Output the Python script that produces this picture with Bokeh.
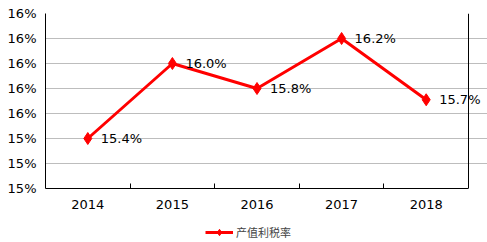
from bokeh.plotting import figure
from bokeh.layouts import column
from bokeh.models import (Range1d, FixedTicker, PrintfTickFormatter, Legend, LegendItem,
                          ColumnDataSource, LabelSet, Grid)
from bokeh.core.properties import value
from bokeh.embed import file_html
from bokeh.resources import INLINE

years = ["2014", "2015", "2016", "2017", "2018"]
rates = [15.4, 16.0, 15.8, 16.2, 15.71]
y_ticks = [15.0, 15.2, 15.4, 15.6, 15.8, 16.0, 16.2, 16.4]
series_name = "产值利税率"

n = len(years)
xs = [i + 0.5 for i in range(n)]
labels = [f"{v:.1f}%" for v in rates]
src = ColumnDataSource(dict(x=xs, y=rates, label=labels))

# frame runs to the right edge so that the last data label is not clipped;
# the visible box is closed at x = n by a grid line
plot_w = 423
extra = 19
p = figure(width=487, height=215, output_backend="svg", toolbar_location=None,
           x_range=Range1d(0, n * (plot_w + extra) / plot_w), y_range=Range1d(y_ticks[0], y_ticks[-1]),
           min_border_left=45, min_border_right=0, min_border_top=13, min_border_bottom=27)
p.background_fill_color = "white"
p.border_fill_color = "white"
p.outline_line_color = None

# x axis
p.xaxis.ticker = FixedTicker(ticks=xs, minor_ticks=list(range(1, n)))
p.xaxis.major_label_overrides = {x: y for x, y in zip(xs, years)}
p.xaxis.bounds = (0, n)
p.xaxis.major_tick_line_color = None
p.xaxis.major_tick_in = 0
p.xaxis.major_tick_out = 0
p.xaxis.minor_tick_line_color = "black"
p.xaxis.minor_tick_in = 5
p.xaxis.minor_tick_out = 0
p.xaxis.axis_line_color = "black"
p.xaxis.major_label_standoff = 11
p.xaxis.major_label_text_font = "DejaVu Sans"
p.xaxis.major_label_text_font_size = "13px"
p.xaxis.major_label_text_color = "black"
p.xgrid.grid_line_color = None

# y axis
p.yaxis.ticker = FixedTicker(ticks=y_ticks)
p.yaxis.formatter = PrintfTickFormatter(format="%.0f%%")
p.yaxis.major_tick_line_color = None
p.yaxis.minor_tick_line_color = None
p.yaxis.major_tick_in = 0
p.yaxis.major_tick_out = 0
p.yaxis.axis_line_color = "black"
p.yaxis.major_label_standoff = 9
p.yaxis.major_label_text_font = "DejaVu Sans"
p.yaxis.major_label_text_font_size = "13px"
p.yaxis.major_label_text_color = "black"
p.ygrid.ticker = FixedTicker(ticks=y_ticks[1:-1])
p.ygrid.grid_line_color = "#BDBDBD"
p.ygrid.grid_line_width = 1
p.ygrid.bounds = (0, n)

# box closing lines (top and right)
p.add_layout(Grid(dimension=1, ticker=FixedTicker(ticks=[y_ticks[-1]]), bounds=(0, n),
                  grid_line_color="black", grid_line_width=1))
p.add_layout(Grid(dimension=0, ticker=FixedTicker(ticks=[n]),
                  grid_line_color="black", grid_line_width=1))

p.line("x", "y", source=src, line_color="#FF0000", line_width=3)
p.scatter("x", "y", source=src, marker="diamond", size=12, fill_color="#FF0000", line_color="#FF0000")
labs = LabelSet(x="x", y="y", text="label", source=src, x_offset=13, text_baseline="middle",
                text_font=value("DejaVu Sans"), text_font_size=value("13px"), text_color="black")
p.add_layout(labs)

# legend strip
q = figure(width=487, height=27, output_backend="svg", toolbar_location=None,
           x_range=Range1d(0, 1), y_range=Range1d(0, 1),
           min_border_left=0, min_border_right=0, min_border_top=0, min_border_bottom=0)
q.axis.visible = False
q.grid.grid_line_color = None
q.outline_line_color = None
q.background_fill_color = "white"
q.border_fill_color = "white"
l_line = q.line("x", "y", source=src, line_color="#FF0000", line_width=3)
l_pts = q.scatter("x", "y", source=src, marker="diamond", size=9, fill_color="#FF0000", line_color="#FF0000")
legend = Legend(items=[LegendItem(label=series_name, renderers=[l_line, l_pts])],
                location=(160, 2), orientation="horizontal",
                label_text_font="Noto Sans CJK SC", label_text_font_size="11px",
                glyph_width=28, glyph_height=16, label_standoff=3, label_height=12,
                background_fill_alpha=0, border_line_color=None, padding=0, margin=0)
q.add_layout(legend, "center")

layout = column(p, q, spacing=0)
open("out.html", "w").write(file_html(layout, INLINE))
